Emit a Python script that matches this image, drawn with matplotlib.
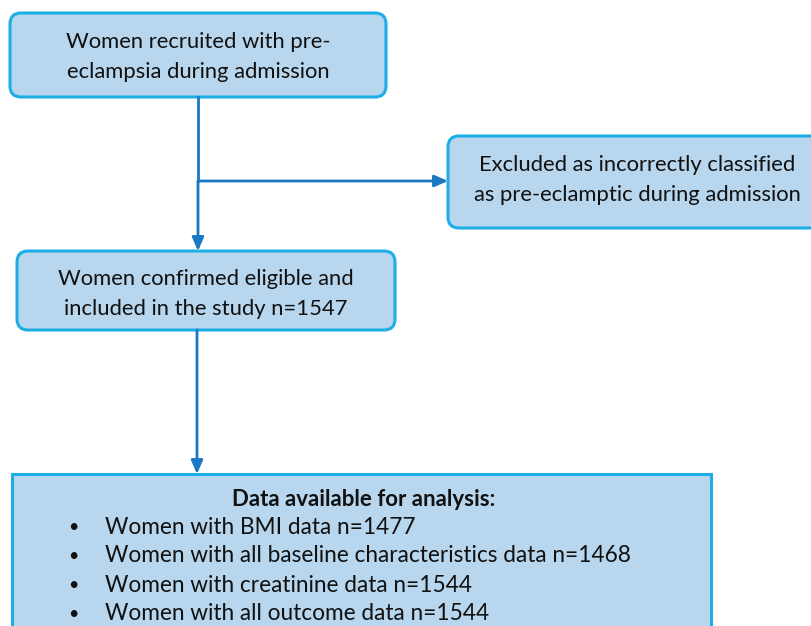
import matplotlib.pyplot as plt
from matplotlib.patches import FancyBboxPatch

# flowchart content
recruited_label = "Women recruited with pre-\neclampsia during admission"
excluded_label = "Excluded as incorrectly classified\nas pre-eclamptic during admission"
included_label = "Women confirmed eligible and\nincluded in the study n={}"
n_included = 1547
analysis_title = "Data available for analysis:"
analysis_items = ["Women with BMI data",
                  "Women with all baseline characteristics data",
                  "Women with creatinine data",
                  "Women with all outcome data"]
analysis_n = [1477, 1468, 1544, 1544]

FILL = '#B8D7EE'
EDGE = '#1DAEE6'
ARROW = '#1B79C3'
FONT = 'Lato'

fig = plt.figure(figsize=(8.12, 6.26), dpi=100)
ax = fig.add_axes([0, 0, 1, 1])
ax.set_xlim(0, 812)
ax.set_ylim(626, 0)
ax.axis('off')


def box(x0, y0, x1, y1, rounded=True):
    style = 'round,pad=0,rounding_size=11' if rounded else 'square,pad=0'
    ax.add_patch(FancyBboxPatch((x0, y0), x1 - x0, y1 - y0, boxstyle=style,
                                facecolor=FILL, edgecolor=EDGE, linewidth=2.2,
                                zorder=1))


def arrow(x0, y0, x1, y1):
    ax.annotate('', xy=(x1, y1), xytext=(x0, y0),
                arrowprops=dict(arrowstyle='-|>,head_length=0.8,head_width=0.35',
                                color=ARROW, lw=2, shrinkA=0, shrinkB=0),
                zorder=3)


#%% boxes
box(10, 13, 386, 97)
box(448, 136, 830, 228)
box(17, 251, 395, 330)
box(12, 474, 711, 650, rounded=False)

ax.text(198, 57, recruited_label, ha='center', va='center', fontsize=15.8,
        family=FONT, color='#111111', linespacing=1.6)
ax.text(637, 180, excluded_label, ha='center', va='center', fontsize=15.8,
        family=FONT, color='#111111', linespacing=1.6)
ax.text(206, 294, included_label.format(n_included), ha='center', va='center',
        fontsize=15.8, family=FONT, color='#111111', linespacing=1.6)

ax.text(364, 499, analysis_title, ha='center', va='center', fontsize=16,
        family=FONT, weight='bold', color='#111111')
for i, (item, n) in enumerate(zip(analysis_items, analysis_n)):
    y = 527 + i * 29
    ax.text(73, y, '\u2022', ha='center', va='center', fontsize=13,
            family=FONT, color='#111111')
    ax.text(105, y, f"{item} n={n}", ha='left', va='center', fontsize=16.3,
            family=FONT, color='#111111')

#%% connectors
ax.plot([198, 198], [97, 181], color=ARROW, lw=2, zorder=2)
arrow(198, 181, 198, 251)
arrow(198, 181, 448, 181)
arrow(197, 330, 197, 474)

fig.savefig('out.png', dpi=100)
